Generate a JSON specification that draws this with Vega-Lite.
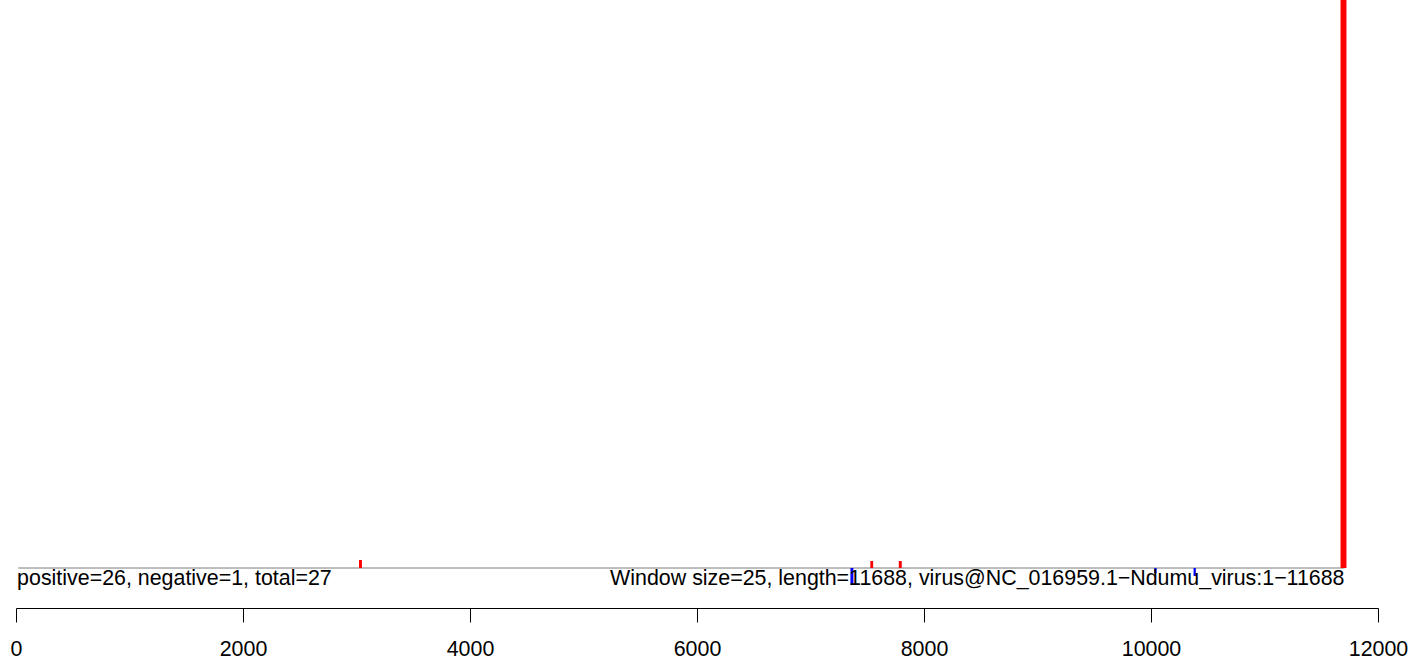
{
  "$schema": "https://vega.github.io/schema/vega-lite/v6.json",
  "width": 1362,
  "height": 608,
  "autosize": {"type": "none"},
  "padding": {"left": 16, "top": 0, "right": 33, "bottom": 52},
  "config": {"view": {"stroke": null}, "font": "Liberation Sans"},
  "datasets": {
    "baseline": [{"start": 20, "end": 11705, "score": 0}],
    "bars": [
      {"start": 3022, "end": 3048, "score": 8, "strand": "positive"},
      {"start": 7527, "end": 7552, "score": 7, "strand": "positive"},
      {"start": 7778, "end": 7804, "score": 7, "strand": "positive"},
      {"start": 11670, "end": 11722, "score": 600, "strand": "positive"},
      {"start": 7352, "end": 7378, "score": -17, "strand": "negative"},
      {"start": 10029, "end": 10049, "score": -5, "strand": "negative"},
      {"start": 10375, "end": 10395, "score": -8, "strand": "negative"}
    ],
    "labels": [
      {"pos": 1, "side": "left", "label": "positive=26, negative=1, total=27"},
      {"pos": 11705, "side": "right", "label": "Window size=25, length=11688, virus@NC_016959.1−Ndumu_virus:1−11688"}
    ]
  },
  "layer": [
    {
      "data": {"name": "baseline"},
      "mark": {"type": "rule", "color": "#7a7a7a", "strokeWidth": 1},
      "encoding": {
        "x": {
          "field": "start", "type": "quantitative",
          "scale": {"domain": [0, 12000], "nice": false, "zero": false},
          "axis": {
            "title": null, "values": [0, 2000, 4000, 6000, 8000, 10000, 12000],
            "format": "d", "grid": false, "tickSize": 14, "tickColor": "black",
            "tickWidth": 1, "domainColor": "black", "domainWidth": 1,
            "labelFontSize": 21.4, "labelColor": "black", "labelPadding": 16,
            "labelFont": "Liberation Sans", "labelFlush": false, "labelOverlap": false
          }
        },
        "x2": {"field": "end"},
        "y": {"field": "score", "type": "quantitative", "scale": {"domain": [-40, 568], "nice": false, "zero": false}, "axis": null}
      }
    },
    {
      "data": {"name": "bars"},
      "mark": {"type": "rect", "clip": true},
      "encoding": {
        "x": {"field": "start", "type": "quantitative"},
        "x2": {"field": "end"},
        "y": {"field": "score", "type": "quantitative"},
        "y2": {"datum": 0},
        "color": {"field": "strand", "type": "nominal", "scale": {"domain": ["positive", "negative"], "range": ["#FF0000", "#0000FF"]}, "legend": null}
      }
    },
    {
      "data": {"name": "labels"},
      "transform": [{"filter": "datum.side == 'left'"}],
      "mark": {"type": "text", "fontSize": 21.4, "baseline": "alphabetic", "align": "left", "dy": 17, "dx": 1, "color": "black", "font": "Liberation Sans"},
      "encoding": {
        "x": {"field": "pos", "type": "quantitative"},
        "y": {"datum": 0},
        "text": {"field": "label"}
      }
    },
    {
      "data": {"name": "labels"},
      "transform": [{"filter": "datum.side == 'right'"}],
      "mark": {"type": "text", "fontSize": 21.4, "baseline": "alphabetic", "align": "right", "dy": 17, "color": "black", "font": "Liberation Sans"},
      "encoding": {
        "x": {"field": "pos", "type": "quantitative"},
        "y": {"datum": 0},
        "text": {"field": "label"}
      }
    }
  ]
}
